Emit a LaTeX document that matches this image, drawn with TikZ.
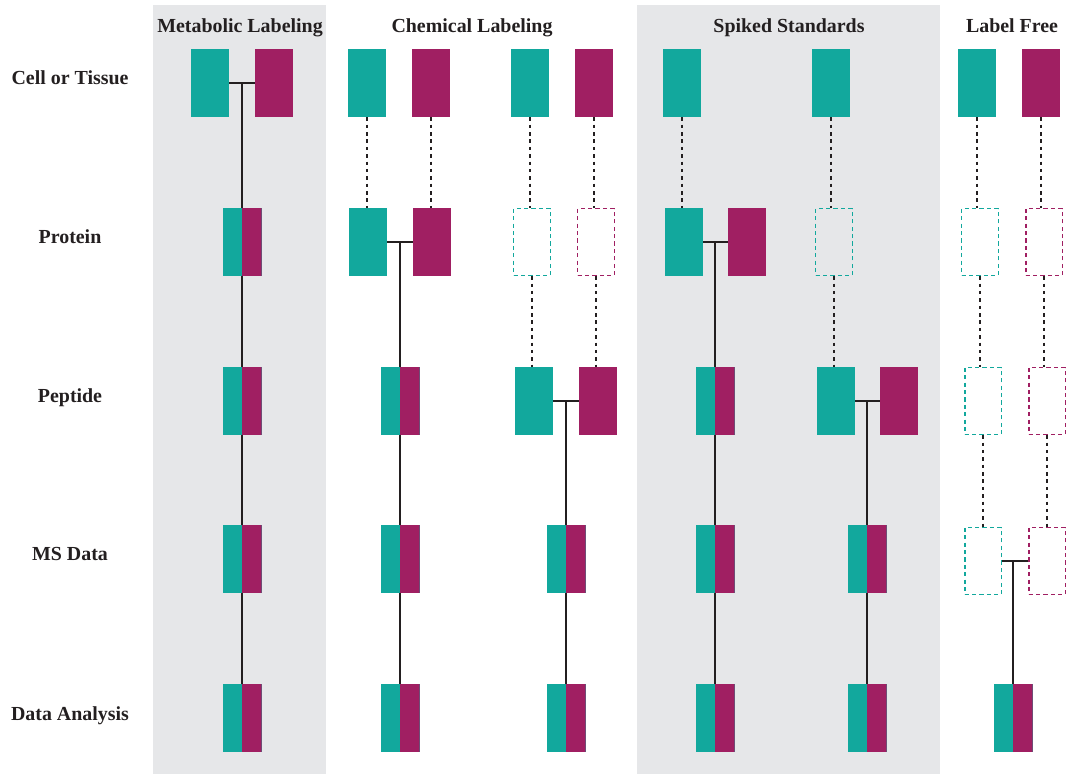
\documentclass[tikz,border=0pt]{standalone}
\usepackage{fontspec}
\setmainfont{Liberation Serif}
\usepackage{xcolor}
\usepackage{tikz}
\usetikzlibrary{positioning}
\definecolor{bteal}{HTML}{12A89D}
\definecolor{bmag}{HTML}{A01F62}
\definecolor{bgray}{HTML}{E6E7E9}
\definecolor{bink}{HTML}{231F20}
\tikzstyle{sample} = [rectangle, inner sep=0pt, minimum width=1.14cm, minimum height=2.04cm]
\tikzstyle{heavy} = [sample, fill=bteal]
\tikzstyle{light} = [sample, fill=bmag]
\tikzstyle{ghost} = [sample, minimum width=1.1cm, minimum height=2cm, line width=1.4pt, dash pattern=on 3.5pt off 2.8pt]
\tikzstyle{mixed} = [sample, minimum width=1.17cm, fill=bteal, path picture={\fill[bmag] (path picture bounding box.north) rectangle (path picture bounding box.south east);}]
\tikzstyle{link} = [draw=bink, line width=2.4pt]
\tikzstyle{trace} = [draw=bink, line width=2.4pt, dash pattern=on 3pt off 3.3pt]
\tikzstyle{head} = [anchor=base, text=bink, font=\bfseries\fontsize{17}{20}\selectfont]

\begin{document}
\begin{tikzpicture}[x=0.03cm, y=-0.03cm]
    \useasboundingbox (0,0) rectangle (1068,774);
    % panels
    \fill[bgray] (153,5) rectangle (326,774);
    \fill[bgray] (637,5) rectangle (940,774);

    % headers
    \node[head] (hmeta) at (240,32) {Metabolic Labeling};
    \node[head] (hchem) at (472,32) {Chemical Labeling};
    \node[head] (hspike) at (789,32) {Spiked Standards};
    \node[head] (hfree) at (1012,32) {Label Free};

    % rows
    \node[head] (rcell) at (70,84) {Cell or Tissue};
    \node[head] (rprot) at (70,243) {Protein};
    \node[head] (rpep) at (70,402) {Peptide};
    \node[head] (rms) at (70,560) {MS Data};
    \node[head] (rdata) at (70,720) {Data Analysis};

    % metabolic labeling
    \node[heavy] at (210,83) (m1a) {};
    \node[light] at (274,83) (m1b) {};
    \node[mixed] at (242,242) (m2) {};
    \node[mixed] at (242,401) (m3) {};
    \node[mixed] at (242,559) (m4) {};
    \node[mixed] at (242,718) (m5) {};
    \path[link] (m1a.east) to (m1b.west);
    \path[link] (m2.north |- m1a.east) to (m2.north);
    \path[link] (m2.south) to (m3.north);
    \path[link] (m3.south) to (m4.north);
    \path[link] (m4.south) to (m5.north);

    % chemical labeling, protein level
    \node[heavy] at (367,83) (c1a) {};
    \node[light] at (431,83) (c1b) {};
    \node[heavy] at (368,242) (c2a) {};
    \node[light] at (432,242) (c2b) {};
    \node[mixed] at (400,401) (c3) {};
    \node[mixed] at (400,559) (c4) {};
    \node[mixed] at (400,718) (c5) {};
    \path[trace] (c1a.south) to (c1a.south |- c2a.north);
    \path[trace] (c1b.south) to (c1b.south |- c2b.north);
    \path[link] (c2a.east) to (c2b.west);
    \path[link] (c3.north |- c2a.east) to (c3.north);
    \path[link] (c3.south) to (c4.north);
    \path[link] (c4.south) to (c5.north);

    % chemical labeling, peptide level
    \node[heavy] at (530,83) (p1a) {};
    \node[light] at (594,83) (p1b) {};
    \node[ghost, draw=bteal] at (532,242) (p2a) {};
    \node[ghost, draw=bmag] at (596,242) (p2b) {};
    \node[heavy] at (534,401) (p3a) {};
    \node[light] at (598,401) (p3b) {};
    \node[mixed] at (566,559) (p4) {};
    \node[mixed] at (566,718) (p5) {};
    \path[trace] (p1a.south) to (p1a.south |- p2a.north);
    \path[trace] (p1b.south) to (p1b.south |- p2b.north);
    \path[trace] (p2a.south) to (p2a.south |- p3a.north);
    \path[trace] (p2b.south) to (p2b.south |- p3b.north);
    \path[link] (p3a.east) to (p3b.west);
    \path[link] (p4.north |- p3a.east) to (p4.north);
    \path[link] (p4.south) to (p5.north);

    % spiked standards, protein level
    \node[heavy] at (682,83) (s1a) {};
    \node[heavy] at (684,242) (s2a) {};
    \node[light] at (747,242) (s2b) {};
    \node[mixed] at (715,401) (s3) {};
    \node[mixed] at (715,559) (s4) {};
    \node[mixed] at (715,718) (s5) {};
    \path[trace] (s1a.south) to (s1a.south |- s2a.north);
    \path[link] (s2a.east) to (s2b.west);
    \path[link] (s3.north |- s2a.east) to (s3.north);
    \path[link] (s3.south) to (s4.north);
    \path[link] (s4.south) to (s5.north);

    % spiked standards, peptide level
    \node[heavy] at (831,83) (t1a) {};
    \node[ghost, draw=bteal] at (834,242) (t2a) {};
    \node[heavy] at (836,401) (t3a) {};
    \node[light] at (899,401) (t3b) {};
    \node[mixed] at (867,559) (t4) {};
    \node[mixed] at (867,718) (t5) {};
    \path[trace] (t1a.south) to (t1a.south |- t2a.north);
    \path[trace] (t2a.south) to (t2a.south |- t3a.north);
    \path[link] (t3a.east) to (t3b.west);
    \path[link] (t4.north |- t3a.east) to (t4.north);
    \path[link] (t4.south) to (t5.north);

    % label free
    \node[heavy] at (977,83) (f1a) {};
    \node[light] at (1041,83) (f1b) {};
    \node[ghost, draw=bteal] at (980,242) (f2a) {};
    \node[ghost, draw=bmag] at (1044,242) (f2b) {};
    \node[ghost, draw=bteal] at (983,401) (f3a) {};
    \node[ghost, draw=bmag] at (1047,401) (f3b) {};
    \node[ghost, draw=bteal] at (983,561) (f4a) {};
    \node[ghost, draw=bmag] at (1047,561) (f4b) {};
    \node[mixed] at (1013,718) (f5) {};
    \path[trace] (f1a.south) to (f1a.south |- f2a.north);
    \path[trace] (f1b.south) to (f1b.south |- f2b.north);
    \path[trace] (f2a.south) to (f2a.south |- f3a.north);
    \path[trace] (f2b.south) to (f2b.south |- f3b.north);
    \path[trace] (f3a.south) to (f3a.south |- f4a.north);
    \path[trace] (f3b.south) to (f3b.south |- f4b.north);
    \path[link] (f4a.east) to (f4b.west);
    \path[link] (f5.north |- f4a.east) to (f5.north);

\end{tikzpicture}
\end{document}
